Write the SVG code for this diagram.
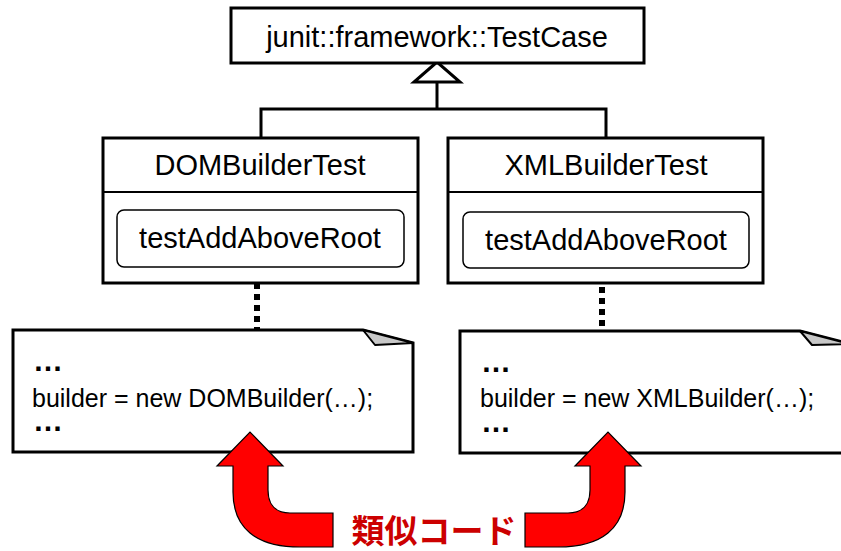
<svg xmlns="http://www.w3.org/2000/svg" width="841" height="551" viewBox="0 0 841 551">
  <style>
    .box { fill: #fff; stroke: #000; stroke-width: 3; }
    .div { stroke: #000; stroke-width: 2; fill: none; }
    .method { fill: #fff; stroke: #000; stroke-width: 1.5; }
    .title { font-family: "Liberation Sans", Arial, sans-serif; font-size: 29px; fill: #000; text-anchor: middle; }
    .code { font-family: "Liberation Sans", Arial, sans-serif; font-size: 25px; fill: #000; }
    .dots { font-family: "Liberation Sans", Arial, sans-serif; font-size: 30px; font-weight: bold; fill: #000; }
    .line { stroke: #000; stroke-width: 3; fill: none; }
    .dotted { stroke: #000; stroke-width: 6; stroke-dasharray: 6 5; fill: none; }
    .fold { fill: #c8c8c8; stroke: #000; stroke-width: 2; stroke-linejoin: round; }
    .arrow { fill: #ff0000; stroke: #000; stroke-width: 1.2; }
    .label { font-family: "Liberation Sans", "Noto Sans CJK JP", sans-serif; font-size: 33px; font-weight: bold; fill: #cc0000; text-anchor: middle; }
  </style>

  <g id="connectors">
    <polyline class="line" points="261,138 261,109 606,109 606,138"/>
    <line class="line" x1="437" y1="82" x2="437" y2="109"/>
    <polygon class="line" points="437,62 414,82 460,82" style="fill:#fff"/>
    <line class="dotted" x1="257" y1="272" x2="257" y2="330"/>
    <line class="dotted" x1="602" y1="265" x2="602" y2="331"/>
  </g>

  <g id="testcase">
    <rect class="box" x="231" y="8" width="413" height="55"/>
    <text class="title" x="437" y="47">junit::framework::TestCase</text>
  </g>

  <g id="dombuildertest">
    <rect class="box" x="103" y="138" width="315" height="145"/>
    <line class="div" x1="103" y1="192" x2="418" y2="192"/>
    <text class="title" x="260" y="175">DOMBuilderTest</text>
    <rect class="method" x="117" y="210" width="287" height="57" rx="7"/>
    <text class="title" x="260" y="248">testAddAboveRoot</text>
  </g>

  <g id="xmlbuildertest">
    <rect class="box" x="448" y="138" width="315" height="145"/>
    <line class="div" x1="448" y1="192" x2="763" y2="192"/>
    <text class="title" x="606" y="175">XMLBuilderTest</text>
    <rect class="method" x="463" y="212" width="286" height="56" rx="7"/>
    <text class="title" x="606" y="250">testAddAboveRoot</text>
  </g>

  <g id="note-dom">
    <path class="box" d="M13,330 L363,330 L413,343 L413,452 L13,452 Z"/>
    <polygon class="fold" points="363,330 375,345 413,343"/>
    <text class="dots" x="33" y="371">…</text>
    <text class="code" x="32" y="407">builder = new DOMBuilder(…);</text>
    <text class="dots" x="33" y="431">…</text>
  </g>

  <g id="note-xml">
    <path class="box" d="M460,331 L800,331 L850,344 L850,453 L460,453 Z"/>
    <polygon class="fold" points="800,331 812,345 850,344"/>
    <text class="dots" x="481" y="372">…</text>
    <text class="code" x="480" y="407">builder = new XMLBuilder(…);</text>
    <text class="dots" x="481" y="432">…</text>
  </g>

  <g id="arrow-left">
    <path class="arrow" d="M333,513 L290,513 C276,513 268,505 268,490 L268,466 L283,466 L250,432 L217,466 L233,466 L233,492 C233,528 256,547 300,547 L333,547 Z"/>
  </g>
  <g id="arrow-right">
    <path class="arrow" transform="translate(858,0) scale(-1,1)" d="M333,513 L290,513 C276,513 268,505 268,490 L268,466 L283,466 L250,432 L217,466 L233,466 L233,492 C233,528 256,547 300,547 L333,547 Z"/>
  </g>

  <g id="label">
    <text class="label" x="434" y="543">類似コード</text>
  </g>
</svg>
